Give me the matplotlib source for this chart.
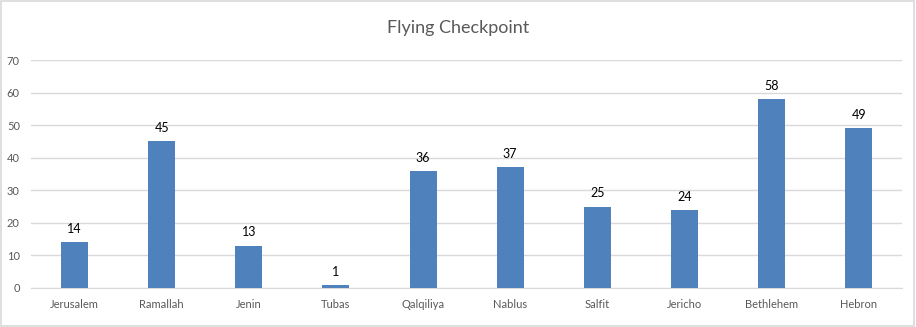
import matplotlib
matplotlib.use("Agg")
import matplotlib.pyplot as plt

categories = ["Jerusalem", "Ramallah", "Jenin", "Tubas", "Qalqiliya", "Nablus",
              "Salfit", "Jericho", "Bethlehem", "Hebron"]
values = [14, 45, 13, 1, 36, 37, 25, 24, 58, 49]
yticks = [0, 10, 20, 30, 40, 50, 60, 70]

plt.rcParams["font.family"] = ["Lato", "DejaVu Sans"]

fig = plt.figure(figsize=(9.16, 3.27), dpi=100)
ax = fig.add_axes([0.0338, 0.1193, 0.9512, 0.6972])

x = list(range(len(categories)))
ax.bar(x, values, width=0.31, color="#4F81BD", zorder=3)
for xi, v in zip(x, values):
    ax.text(xi, v + 2.2, str(v), ha="center", va="bottom", fontsize=9, color="#000000")

ax.set_xlim(-0.5, len(categories) - 0.5)
ax.set_ylim(0, 70)
ax.set_yticks(yticks)
ax.set_xticks(x)
ax.set_xticklabels(categories, fontsize=8, color="#595959")
ax.tick_params(axis="y", labelsize=8, labelcolor="#595959", length=0, pad=8)
ax.tick_params(axis="x", length=0, pad=8)
ax.yaxis.grid(True, color="#D9D9D9", linewidth=1, zorder=0)
for s in ax.spines.values():
    s.set_visible(False)
ax.spines["bottom"].set_visible(True)
ax.spines["bottom"].set_color("#D9D9D9")

fig.text(0.5, 0.915, "Flying Checkpoint", ha="center", va="center", fontsize=13, color="#595959")

border = plt.Rectangle((0.001, 0.002), 0.997, 0.995, transform=fig.transFigure,
                       fill=False, edgecolor="#D9D9D9", linewidth=1.2)
fig.add_artist(border)

fig.savefig("out.png", dpi=100)
